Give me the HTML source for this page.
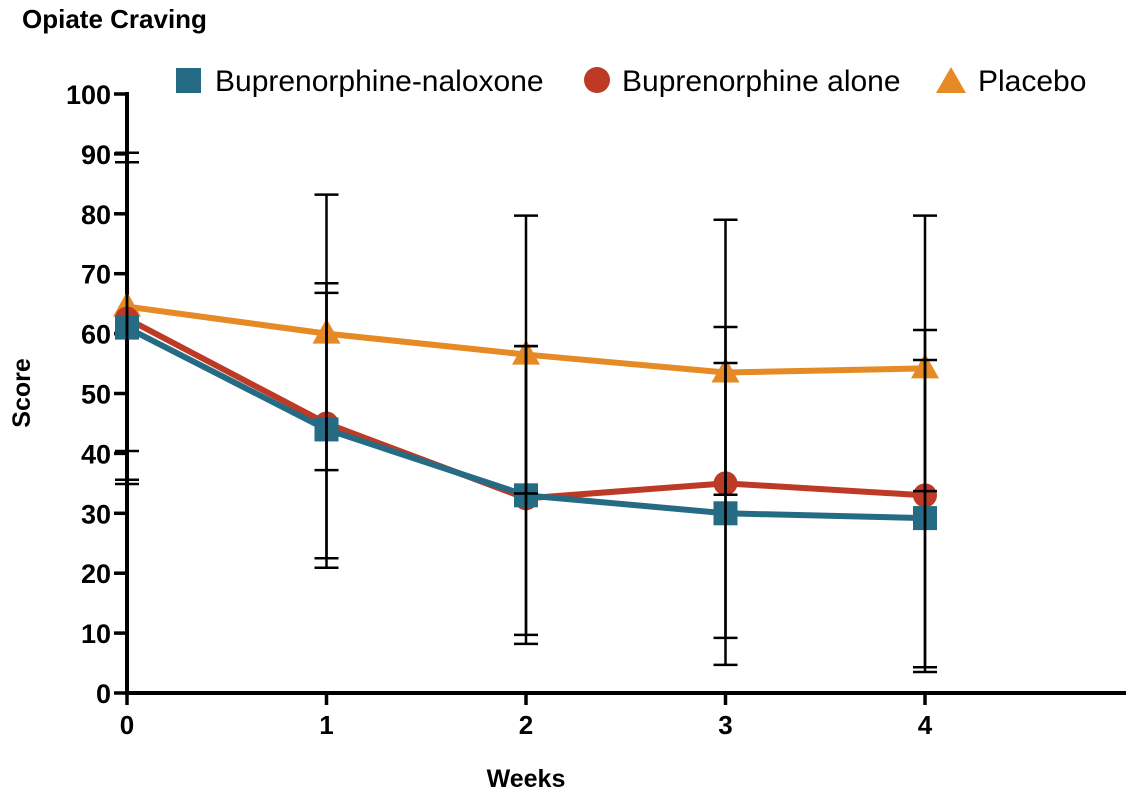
<!DOCTYPE html>
<html><head><meta charset="utf-8"><style>
body{margin:0;background:#fff;}
svg{display:block;font-family:"Liberation Sans",Arial,sans-serif;}
</style></head><body>
<svg id="chart" width="1128" height="793" viewBox="0 0 1128 793">
<text x="22" y="28" font-size="26" font-weight="bold">Opiate Craving</text>
<g id="legend">
  <g>
    <rect x="176" y="68" width="25" height="25" fill="#256b84"/>
    <text x="215" y="91" font-size="30">Buprenorphine-naloxone</text>
  </g>
  <g>
    <circle cx="597" cy="80" r="13" fill="#bd3a26"/>
    <text x="622" y="91" font-size="30">Buprenorphine alone</text>
  </g>
  <g>
    <polygon points="951,67 966,93 936,93" fill="#e58a24"/>
    <text x="978" y="91" font-size="30">Placebo</text>
  </g>
</g>
<g id="axes"></g>
<g id="errs"></g>
<g id="series"></g>
<text x="526" y="787" font-size="25" font-weight="bold" text-anchor="middle">Weeks</text>
<text transform="translate(30,393) rotate(-90)" font-size="25" font-weight="bold" text-anchor="middle">Score</text>
</svg>
<script>
const weeks = [0, 1, 2, 3, 4];
const yTicks = [0, 10, 20, 30, 40, 50, 60, 70, 80, 90, 100];
const nalMean = [61, 44, 33, 30, 29.2];
const nalHigh = [88.6, 68.4, 57.9, 55.1, 55.6];
const nalLow = [34.9, 20.9, 9.7, 4.7, 3.5];
const aloneMean = [62.5, 45, 32.5, 35, 33];
const aloneHigh = [88.6, 66.8, 57.9, 61.1, 60.6];
const aloneLow = [35.6, 22.5, 8.2, 9.2, 4.3];
const placMean = [64.5, 60, 56.5, 53.5, 54.2];
const placHigh = [90.2, 83.2, 79.7, 79.0, 79.7];
const placLow = [40.4, 37.2, 33.3, 33.1, 33.7];

const NS = "http://www.w3.org/2000/svg";
const X = w => 127 + w * 199.5;
const Y = v => 693 - v * 5.99;
function mk(tag, attrs, parent) {
  const e = document.createElementNS(NS, tag);
  for (const k in attrs) e.setAttribute(k, attrs[k]);
  parent.appendChild(e);
  return e;
}
const axes = document.getElementById('axes');
let l = mk('line', {x1: X(0), y1: Y(100) - 2, x2: X(0), y2: Y(0) + 2, stroke: '#000', 'stroke-width': 4}, axes);


l = mk('line', {x1: X(0) - 2, y1: Y(0), x2: 1126, y2: Y(0), stroke: '#000', 'stroke-width': 4}, axes);


yTicks.forEach(t => {
  const tk = mk('line', {x1: X(0) - 13, y1: Y(t), x2: X(0), y2: Y(t), stroke: '#000', 'stroke-width': 3.5}, axes);
  
  
  const tx = mk('text', {x: X(0) - 16, y: Y(t) + 10, 'font-size': 27, 'font-weight': 'bold', 'text-anchor': 'end'}, axes);
  tx.textContent = t;
  
  
});
weeks.forEach(w => {
  const tk = mk('line', {x1: X(w), y1: Y(0), x2: X(w), y2: Y(0) + 12, stroke: '#000', 'stroke-width': 3.5}, axes);
  
  
  const tx = mk('text', {x: X(w), y: Y(0) + 41, 'font-size': 26, 'font-weight': 'bold', 'text-anchor': 'middle'}, axes);
  tx.textContent = w;
  
  
});
const errs = document.getElementById('errs');
function drawErr(highs, lows, name) {
  weeks.forEach((w, i) => {
    const g = mk('g', {stroke: '#000', 'stroke-width': 2.5}, errs);
    
    
    mk('line', {x1: X(w), y1: Y(highs[i]), x2: X(w), y2: Y(lows[i])}, g);
    mk('line', {x1: X(w) - 12, y1: Y(highs[i]), x2: X(w) + 12, y2: Y(highs[i])}, g);
    mk('line', {x1: X(w) - 12, y1: Y(lows[i]), x2: X(w) + 12, y2: Y(lows[i])}, g);
  });
}
drawErr(placHigh, placLow, 'placebo');
drawErr(aloneHigh, aloneLow, 'buprenorphine-alone');
drawErr(nalHigh, nalLow, 'buprenorphine-naloxone');
const series = document.getElementById('series');
function drawSeries(vals, color, shape, name) {
  const g = mk('g', {}, series);
  
  
  const ln = mk('polyline', {points: weeks.map((w, i) => X(w) + ',' + Y(vals[i])).join(' '), fill: 'none', stroke: color, 'stroke-width': 6, 'stroke-linejoin': 'round'}, g);
  
  
  weeks.forEach((w, i) => {
    const cx = X(w), cy = Y(vals[i]);
    let m;
    if (shape === 'square') m = mk('rect', {x: cx - 12, y: cy - 12, width: 24, height: 24, fill: color}, g);
    else if (shape === 'circle') m = mk('circle', {cx: cx, cy: cy, r: 12, fill: color}, g);
    else m = mk('polygon', {points: `${cx},${cy - 15} ${cx + 14},${cy + 10} ${cx - 14},${cy + 10}`, fill: color}, g);
    
    
  });
}
drawSeries(placMean, '#e58a24', 'triangle', 'placebo');
drawSeries(aloneMean, '#bd3a26', 'circle', 'buprenorphine-alone');
drawSeries(nalMean, '#256b84', 'square', 'buprenorphine-naloxone');
errs.parentNode.appendChild(errs);
</script>
</body></html>
